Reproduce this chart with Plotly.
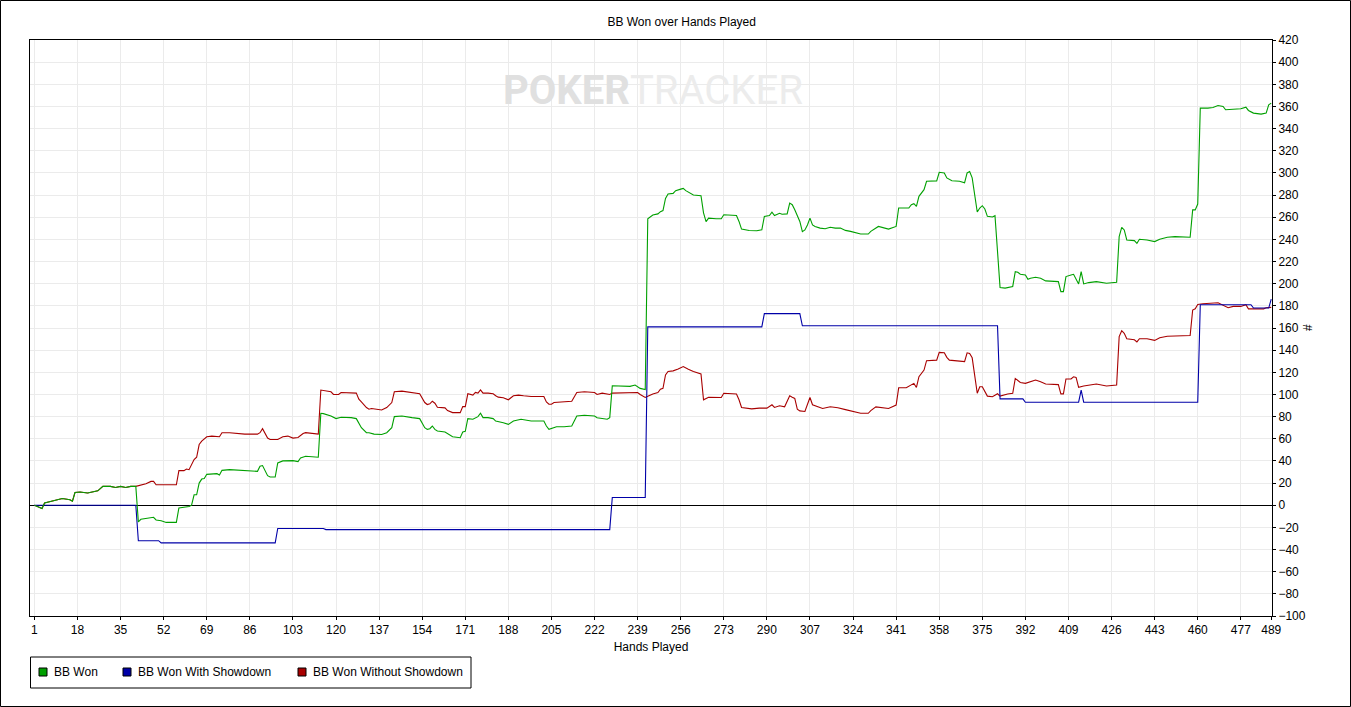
import plotly.graph_objects as go

# cumulative big blinds per hand as (hand, bb)
bb_won = [
    (1, 0), (2, -1), (4, -3), (5, 2), (7, 3), (10, 5), (12, 6), (15, 5), (16, 3.6), (17, 11.5),
    (19, 12), (22, 11), (25, 12), (26, 13), (28, 17), (31, 17), (33, 16), (35, 17), (37, 16), (39, 17),
    (41, 17), (42, -15), (43, -12.7), (45, -11.8), (47, -10.9), (48, -10.9), (49, -13.3), (51, -14),
    (53, -15.5), (57, -15.5), (58, -2.4), (61, -1.8), (62, -1.2), (63, 0), (64, 9.4), (65, 9.4),
    (66, 20), (67, 23.6), (68, 24.2), (69, 27.9), (73, 28.5), (74, 27.3), (75, 31.5), (78, 32.1),
    (85, 31.2), (89, 30.6), (90, 35.2), (91, 35.8), (93, 26.7), (94, 25.5), (96, 25.5), (97, 38.2),
    (99, 40), (103, 40.3), (105, 39.4), (106, 42.7), (108, 44.2), (113, 43.3), (114, 83), (115, 82.7),
    (118, 80.6), (120, 78.2), (122, 79.4), (126, 79.1), (128, 78.2), (129, 73.9), (130, 70), (132, 65.5),
    (133, 65.5), (135, 64.2), (138, 63.9), (140, 65.5), (142, 70), (143, 80), (146, 80.6), (150, 79.1),
    (153, 78.2), (155, 70), (156, 68.5), (157, 69.1), (158, 71.5), (159, 68.5), (160, 67), (163, 66.1),
    (164, 64.8), (166, 61.8), (169, 60.9), (170, 66.1), (171, 66.7), (172, 78.2), (174, 77.6), (175, 79.1),
    (176, 80), (177, 83), (178, 79.1), (180, 79.1), (182, 78.2), (183, 76), (185, 75.2), (186, 74.5),
    (188, 73), (190, 76), (193, 77.6), (197, 76), (202, 76), (203, 71.5), (204, 68.5), (205, 69.1),
    (207, 70.9), (210, 70.9), (213, 71.5), (215, 80.6), (218, 81.2), (222, 80.6), (223, 79), (227, 77.6),
    (228, 79.1), (229, 107.9), (232, 107.9), (236, 107.3), (238, 108.5), (240, 105.5), (242, 104.5),
    (243, 258.5), (245, 262), (247, 263), (248, 265), (249, 266), (250, 277), (251, 281), (253, 281.5),
    (254, 284), (256, 285.4), (257, 286), (258, 284), (260, 281.5), (261, 280), (264, 279.4), (265, 264),
    (266, 256), (267, 259.2), (270, 258.6), (272, 258.6), (273, 262.2), (276, 262.2), (278, 261.6),
    (279, 256.2), (280, 249.3), (283, 248), (286, 247.8), (288, 248.7), (289, 260.7), (291, 261.6),
    (292, 264.6), (293, 261.6), (295, 263.6), (296, 262.7), (298, 263), (299, 272.8), (300, 271.3),
    (301, 266.7), (302, 262), (303, 256.2), (304, 247), (305, 248.5), (306, 253), (307, 259.2), (308, 253),
    (309, 251.7), (311, 250.2), (313, 249.6), (315, 251), (317, 250.2), (319, 250.2), (321, 248.1),
    (323, 247.2), (325, 245.7), (327, 244.8), (330, 244.8), (331, 247.2), (334, 251.7), (336, 250.2),
    (338, 249.3), (341, 251.7), (342, 268.3), (346, 268.3), (347, 271.3), (348, 272.2), (349, 269.8),
    (350, 278.9), (352, 284.9), (353, 292.5), (357, 292.8), (358, 300.6), (360, 300), (361, 295.5),
    (362, 294), (363, 293), (366, 292.5), (368, 291), (369, 300), (370, 301.2), (371, 295.5), (373, 264.7),
    (374, 268.3), (375, 270.4), (376, 267.4), (377, 260.8), (379, 260.2), (380, 261.4), (382, 196.5),
    (384, 196), (387, 197.5), (388, 210.9), (389, 210.3), (390, 208.5), (392, 207.8), (393, 204),
    (394, 204.9), (396, 205.8), (398, 204.9), (400, 202.5), (405, 201.9), (406, 192.8), (407, 192.8),
    (408, 206.4), (410, 207.9), (411, 208.5), (413, 199.8), (414, 210.9), (415, 199.8), (417, 201),
    (420, 201.9), (424, 200.4), (428, 201.3), (429, 242.5), (430, 250.9), (431, 248.5), (432, 239.5),
    (435, 238.9), (436, 236.5), (437, 240.1), (440, 239.5), (443, 238), (445, 240.1), (448, 241.9),
    (451, 242.5), (455, 242.5), (457, 241.9), (458, 266.6), (459, 266.6), (460, 271.9), (461, 358.5),
    (464, 358.5), (466, 359.1), (468, 360.9), (470, 360), (471, 357), (474, 357.6), (477, 357.9),
    (479, 359.4), (480, 356.4), (482, 354), (485, 353.1), (487, 354), (488, 361.5), (489, 363),
]

bb_showdown = [
    (1, 0), (41, 0), (42, -32), (50, -32), (51, -34), (96, -34), (97, -21), (115, -21), (116, -22),
    (228, -22), (229, 7), (242, 7), (243, 161), (288, 161), (289, 173), (303, 173), (304, 162),
    (381, 162), (382, 96), (391, 96), (392, 93), (413, 93), (414, 104), (415, 93), (460, 93),
    (461, 181), (481, 181), (482, 178), (488, 178), (489, 186),
]

bb_no_showdown = [
    (1, 0), (2, -1), (4, -3), (5, 2), (7, 3), (10, 5), (12, 6), (15, 5), (16, 3.6), (17, 11.5),
    (19, 12), (22, 11), (25, 12), (26, 13), (28, 17), (31, 17), (33, 16), (35, 17), (37, 16), (39, 17),
    (41, 17), (43, 18.2), (45, 19.4), (47, 21.5), (48, 21.5), (49, 18.5), (57, 18.5), (58, 31.2),
    (60, 31.2), (61, 32.7), (62, 32.1), (64, 41.2), (65, 43.3), (66, 54.8), (67, 57.9), (69, 61.8),
    (71, 62.4), (74, 61.8), (75, 65.5), (78, 65.5), (84, 64.2), (89, 64.2), (90, 65.5), (91, 69.1),
    (93, 60.6), (94, 59.4), (97, 59.4), (99, 61.8), (101, 62.4), (103, 60.6), (105, 61.2), (107, 64.8),
    (108, 65.5), (113, 64.2), (114, 104), (118, 102.4), (119, 100), (121, 100), (122, 101.8), (128, 101.2),
    (129, 95.8), (130, 93.3), (132, 88.2), (133, 86.7), (134, 87.3), (138, 86), (140, 88.2), (142, 92.7),
    (143, 102.4), (146, 103), (150, 101.8), (153, 100.6), (155, 92.7), (156, 90.9), (157, 91.5),
    (158, 93.9), (159, 92.1), (160, 88.5), (163, 87.9), (164, 85.5), (166, 83.6), (169, 83.6), (170, 89),
    (171, 89), (172, 100.6), (174, 99.4), (175, 101.8), (176, 101.2), (177, 104.2), (178, 101.2),
    (180, 101.2), (182, 100.6), (183, 98.8), (184, 97.6), (186, 97), (188, 95.2), (190, 98.8), (192, 99.4),
    (194, 98.8), (197, 98.2), (202, 98.2), (203, 93.3), (204, 91.2), (205, 91.2), (206, 92.7), (209, 93.3),
    (211, 93.9), (213, 93.9), (215, 101.8), (218, 102.4), (222, 101.8), (223, 100), (225, 101.2),
    (228, 100), (229, 101.2), (232, 101.2), (237, 101.8), (239, 101.8), (240, 100), (241, 98.5),
    (242, 97.3), (243, 98.3), (245, 100.5), (247, 101.7), (248, 104.7), (249, 105.6), (250, 117.7),
    (251, 120.7), (253, 121.3), (255, 123), (257, 125.2), (259, 122.8), (261, 120.7), (264, 118.6),
    (265, 95.2), (267, 97.5), (272, 97.3), (273, 101.1), (276, 101.1), (278, 100.5), (279, 95.2),
    (280, 88.3), (284, 87), (287, 87.7), (290, 87.7), (292, 90.7), (293, 88.3), (295, 89.8), (297, 88.9),
    (299, 98.8), (300, 97.5), (301, 96.4), (302, 86.7), (303, 85.2), (305, 84.6), (307, 97.3), (308, 90.7),
    (310, 88.9), (312, 87.4), (315, 88.9), (318, 88), (321, 86.3), (323, 85.4), (325, 84), (327, 83),
    (330, 83), (331, 85.4), (333, 88.8), (336, 88.2), (338, 87.3), (341, 90.4), (342, 106), (345, 106),
    (347, 108.5), (348, 110), (349, 106.3), (350, 116), (352, 122), (353, 130.5), (357, 131), (358, 138),
    (360, 137.7), (361, 133.5), (362, 131), (366, 130.2), (368, 129.6), (369, 137.6), (370, 137),
    (371, 133.1), (373, 101.1), (374, 107), (375, 107), (377, 98.5), (379, 97.9), (381, 100.6),
    (382, 98.5), (385, 100.4), (387, 101.1), (388, 114.5), (389, 113), (390, 110.8), (392, 110),
    (394, 111.5), (396, 113), (398, 111.5), (400, 109.5), (405, 108.9), (406, 100.5), (407, 100.5),
    (408, 114), (410, 114), (411, 116), (412, 115.4), (413, 106.4), (415, 107.6), (417, 108.5),
    (420, 109.4), (424, 107.6), (428, 108.5), (429, 152.2), (430, 157.6), (431, 155.2), (432, 150.3),
    (435, 149.4), (436, 147.5), (437, 150.3), (440, 150.3), (443, 148.8), (445, 151.2), (448, 152.6),
    (457, 153.2), (458, 176.2), (459, 177.4), (460, 181.3), (462, 181.9), (468, 182.8), (470, 180.4),
    (472, 178.3), (474, 179.5), (477, 179.5), (479, 181), (480, 177.3), (486, 177.3), (487, 178.3),
    (489, 178.6),
]

x_ticks = [1, 18, 35, 52, 69, 86, 103, 120, 137, 154, 171, 188, 205, 222, 239, 256,
           273, 290, 307, 324, 341, 358, 375, 392, 409, 426, 443, 460, 477, 489]
y_ticks = [-100, -80, -60, -40, -20, 0, 20, 40, 60, 80, 100, 120, 140, 160, 180, 200,
           220, 240, 260, 280, 300, 320, 340, 360, 380, 400, 420]

legend_names = ["BB Won", "BB Won With Showdown", "BB Won Without Showdown"]

GREEN = "#00a000"
BLUE = "#0000a8"
RED = "#a80000"
FONT = "Liberation Sans"

W, H = 1351, 707
ML, MR, MT, MB = 30, 79, 40, 91
PW, PH = W - ML - MR, H - MT - MB


def px(x):
    return (x - ML) / PW


def py(y):
    return (MT + PH - y) / PH


fig = go.Figure()

# red first, green on top, like the original drawing order
for name, pts, color in [(legend_names[2], bb_no_showdown, RED),
                         (legend_names[1], bb_showdown, BLUE),
                         (legend_names[0], bb_won, GREEN)]:
    fig.add_trace(go.Scatter(
        x=[p[0] for p in pts], y=[p[1] for p in pts], mode="lines", name=name,
        line=dict(color=color, width=1.1), showlegend=False, hoverinfo="x+y+name",
    ))

fig.update_layout(
    width=W, height=H,
    margin=dict(l=ML, r=MR, t=MT, b=MB, pad=0),
    paper_bgcolor="white", plot_bgcolor="white",
    font=dict(family=FONT, size=12, color="black"),
    title=dict(text="BB Won over Hands Played", x=681.7 / W, xanchor="center",
               y=1 - 22 / H, yanchor="middle", font=dict(size=12)),
    showlegend=False,
    xaxis=dict(
        range=[-0.75, 489.3], tickmode="array", tickvals=x_ticks,
        ticktext=[str(t) for t in x_ticks],
        ticks="outside", ticklen=3, tickcolor="black",
        showgrid=True, gridcolor="#ebebeb", gridwidth=1,
        showline=True, linecolor="black", linewidth=1, mirror=True, zeroline=False,
        title=dict(text="Hands Played", standoff=6, font=dict(size=12)),
    ),
    yaxis=dict(
        range=[-100, 420], side="right", tickmode="array", tickvals=y_ticks,
        ticks="outside", ticklen=3, tickcolor="black",
        showgrid=True, gridcolor="#ebebeb", gridwidth=1,
        showline=True, linecolor="black", linewidth=1, mirror=True,
        zeroline=True, zerolinecolor="black", zerolinewidth=1,
    ),
)

# axis label on the right
fig.add_annotation(text="#", xref="paper", yref="paper", x=px(1317), y=0.5,
                   showarrow=False, textangle=-90, font=dict(size=12))

# faint PokerTracker watermark
fig.add_annotation(
    text='<b><span style="color:#e0e0e0">POKER</span></b><span style="color:#ececec">TRACKER</span>',
    xref="paper", yref="paper", x=px(653), y=py(90),
    xanchor="center", yanchor="middle", showarrow=False,
    font=dict(family="Roboto", size=40),
)

# legend box drawn by hand: square swatch + label
fig.add_shape(type="rect", xref="paper", yref="paper",
              x0=px(30.5), x1=px(471), y0=py(688), y1=py(657),
              line=dict(color="black", width=1), fillcolor="white")
for (sq_x, txt_x), name, color in zip([(39, 52), (123, 136), (298, 311)], legend_names,
                                      [GREEN, BLUE, RED]):
    fig.add_shape(type="rect", xref="paper", yref="paper",
                  x0=px(sq_x), x1=px(sq_x + 8), y0=py(676), y1=py(668),
                  line=dict(color="black", width=1), fillcolor=color)
    fig.add_annotation(text=name, xref="paper", yref="paper", x=px(txt_x), y=py(672),
                       xanchor="left", yanchor="middle", showarrow=False,
                       font=dict(size=12))

# black frame round the whole image
fig.add_shape(type="rect", xref="paper", yref="paper",
              x0=px(0.5), x1=px(W - 0.5), y0=py(H - 0.5), y1=py(0.5),
              line=dict(color="black", width=1), layer="above")

fig.write_html("out.html", config={"displayModeBar": False},
               post_script="document.body.style.margin='0';")
